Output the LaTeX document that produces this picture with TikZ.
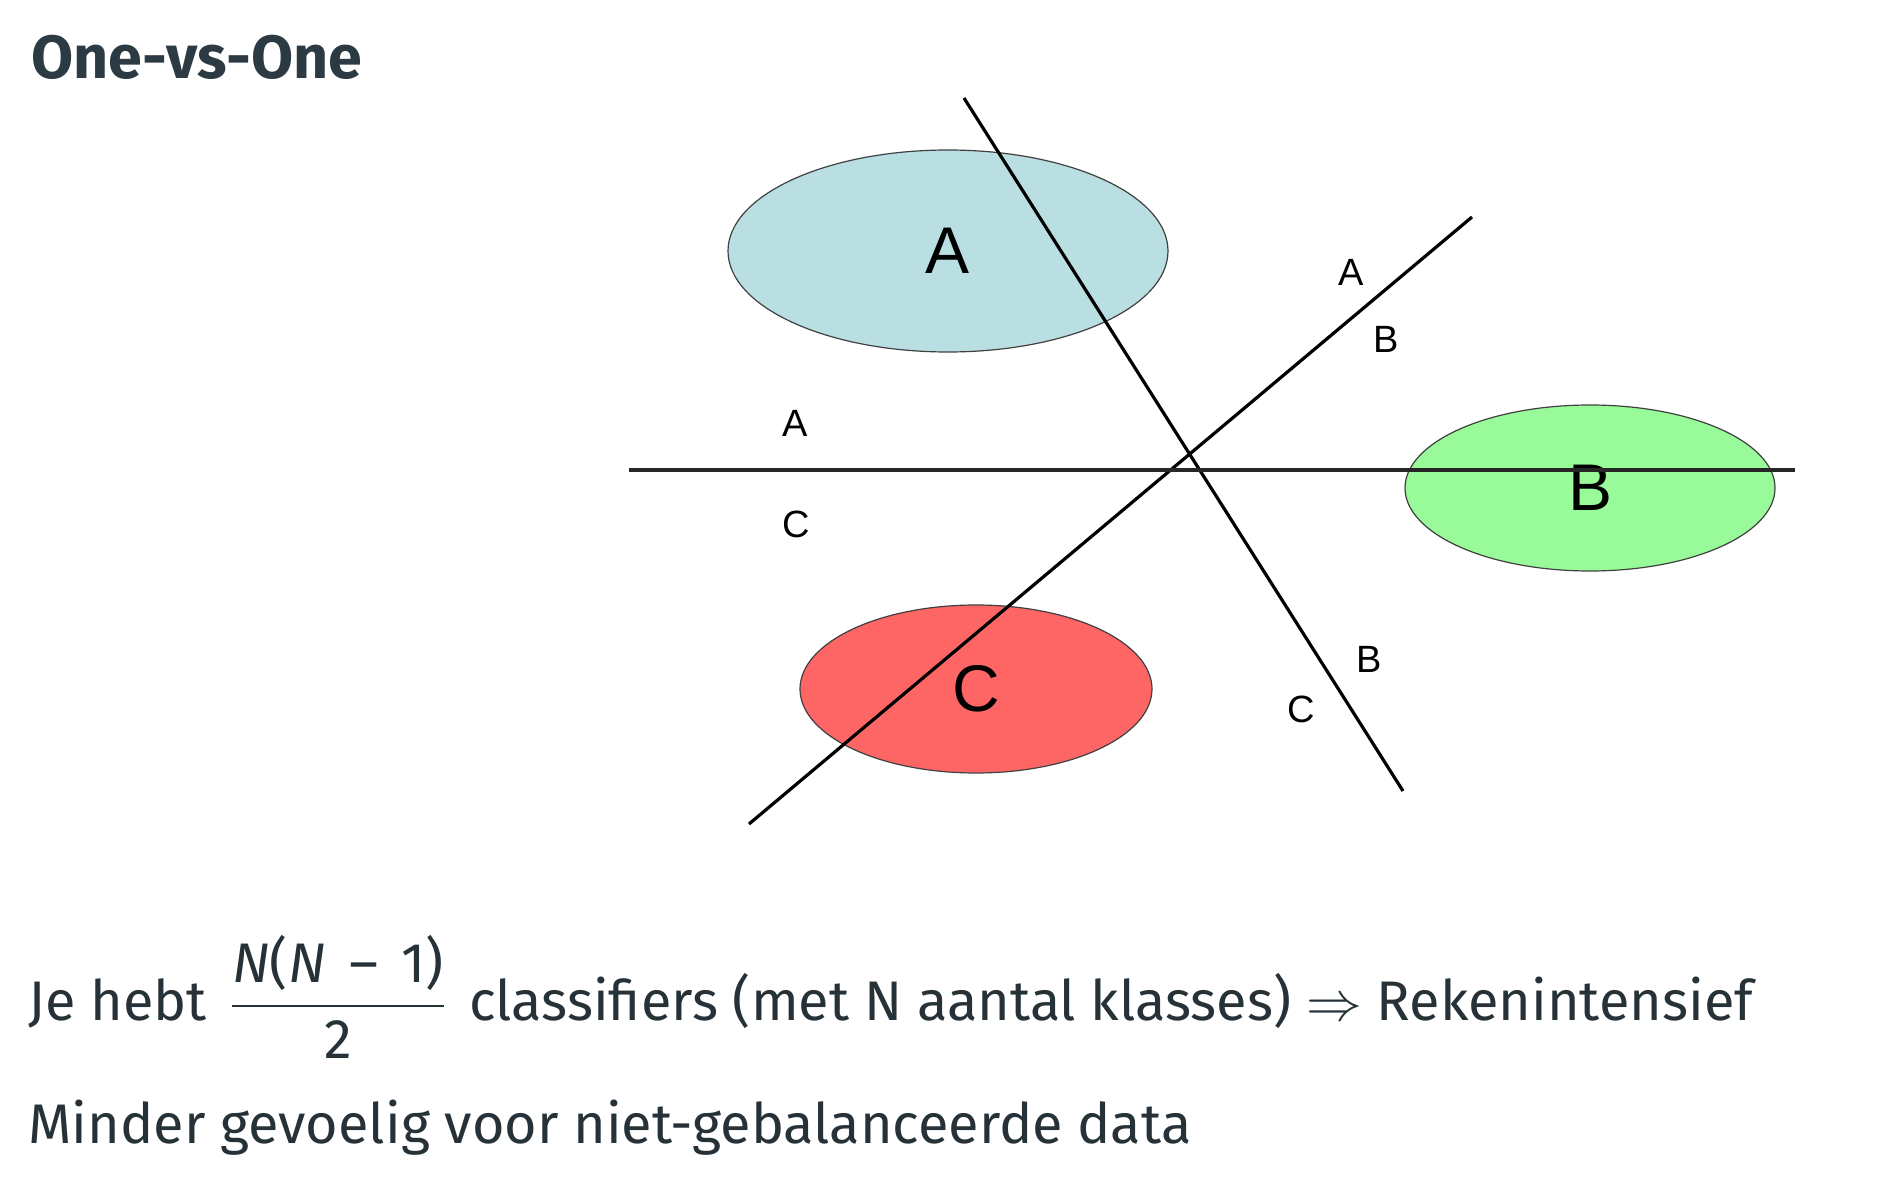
\RequirePackage{fix-cm}
\documentclass[tikz,border=0pt]{standalone}
\usepackage{amsmath}
\usepackage{fontspec}
\usepackage{tikz}
\usepackage{xcolor}
\usetikzlibrary{shapes.geometric,positioning}
\setmainfont{Fira Sans}
\newfontfamily\diagfont{Liberation Sans}
\definecolor{slatehead}{HTML}{2C3A44}
\definecolor{slatetext}{HTML}{263238}
\definecolor{clsblue}{HTML}{B9DFE3}
\definecolor{clsgreen}{HTML}{99FA99}
\definecolor{clsred}{HTML}{FE6666}
\newcommand{\varN}{\textit{N}}

\begin{document}
\begin{tikzpicture}[x=0.5pt,y=-0.5pt,
  cls/.style={ellipse,draw=black!75,line width=0.6pt,inner sep=0pt,font=\diagfont\fontsize{33}{33}\selectfont},
  side/.style={font=\diagfont\fontsize{19}{19}\selectfont,inner sep=0pt},
  sep/.style={line width=1.6pt,black},
  txt/.style={anchor=base west,inner sep=0pt,text=slatetext,font=\fontsize{27.9}{33}\selectfont}
]
\useasboundingbox (0,0) rectangle (1902,1192);

\node[anchor=base west,inner sep=0pt,text=slatehead,font=\bfseries\fontsize{30.5}{40}\selectfont] (title) at (31,79) {One-vs-One};

\node[cls,fill=clsblue,minimum width=220pt,minimum height=101pt] (clsA) at (948,251) {A};
\node[cls,fill=clsgreen,minimum width=185pt,minimum height=83pt] (clsB) at (1590,488) {B};
\node[cls,fill=clsred,minimum width=176pt,minimum height=84pt] (clsC) at (976,689) {C};

\coordinate (sepAtop) at (964,98);
\coordinate (sepAbot) at (1403,791);
\coordinate (sepBtop) at (1472,217);
\coordinate (sepBbot) at (749,824);
\coordinate (sepCleft) at (629,470);
\coordinate (sepCright) at (1795,470);

\draw[sep] (sepAtop) -- (sepAbot);
\draw[sep] (sepBbot) -- (sepBtop);
\draw[sep,line width=2.1pt,black!85] (sepCleft) -- (sepCright);

\node[side] (sideAB1) at (1351,272) {A};
\node[side] (sideAB2) at (1386,339) {B};
\node[side] (sideAC1) at (795,423) {A};
\node[side] (sideAC2) at (796,524) {C};
\node[side] (sideBC1) at (1369,659) {B};
\node[side] (sideBC2) at (1301,709) {C};

\node[txt] (costline) at (28,1020) {Je hebt\hspace{4pt} $\displaystyle\frac{\mbox{\varN(\varN\hspace{0.42em}–\hspace{0.42em}1)}}{\mbox{2}}$\hspace{4pt} classifiers (met N aantal klasses) $\Rightarrow$ Rekenintensief};
\node[txt] (balline) at (28,1143) {Minder gevoelig voor niet-gebalanceerde data};
\end{tikzpicture}
\end{document}
